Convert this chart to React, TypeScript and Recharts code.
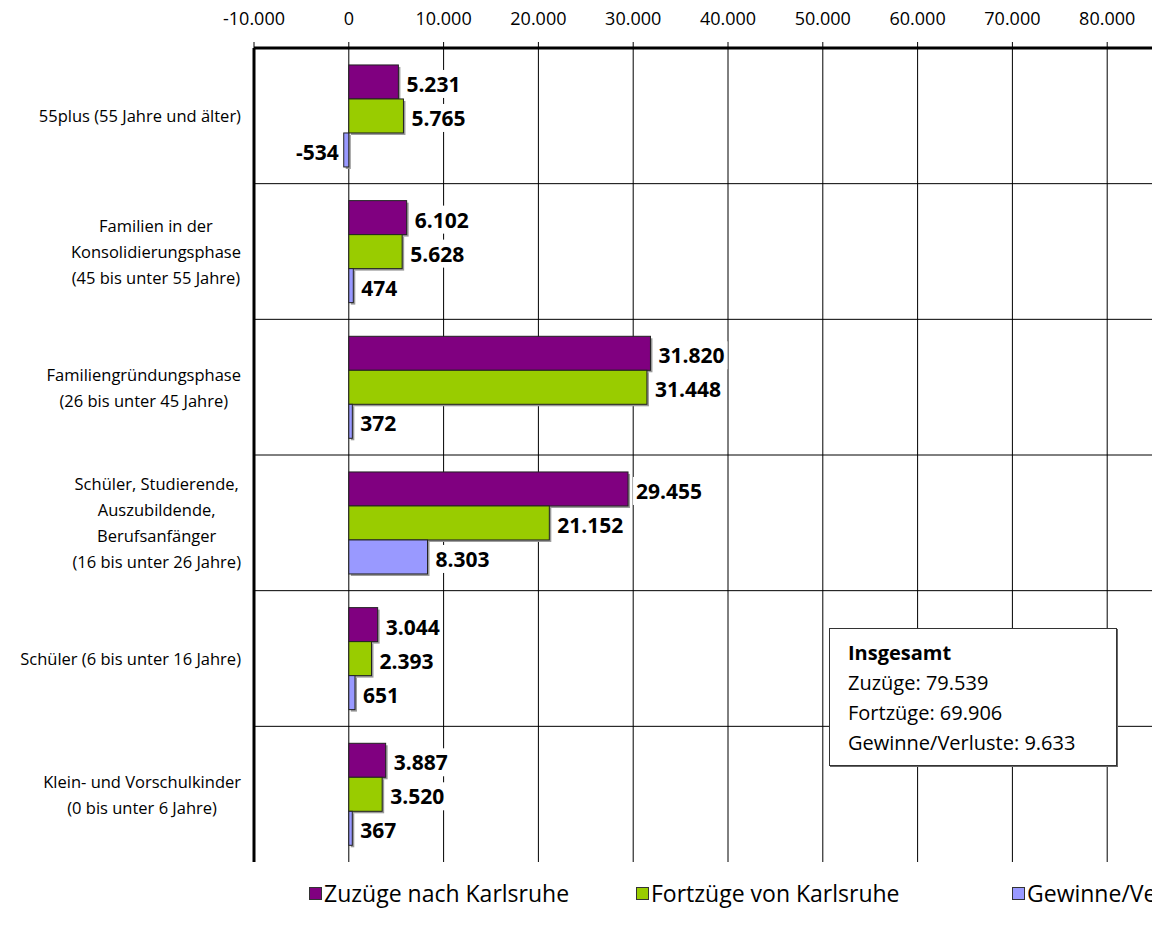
import React from "react";
import { BarChart, Bar, XAxis, YAxis, CartesianGrid, LabelList, Legend } from "recharts";

const categories = [
  "55plus (55 Jahre und älter)",
  "Familien in der\nKonsolidierungsphase\n(45 bis unter 55 Jahre)",
  "Familiengründungsphase\n(26 bis unter 45 Jahre)",
  "Schüler, Studierende,\nAuszubildende,\nBerufsanfänger\n(16 bis unter 26 Jahre)",
  "Schüler (6 bis unter 16 Jahre)",
  "Klein- und Vorschulkinder\n(0 bis unter 6 Jahre)",
];
const zuzuege = [5231, 6102, 31820, 29455, 3044, 3887];
const fortzuege = [5765, 5628, 31448, 21152, 2393, 3520];
const saldo = [-534, 474, 372, 8303, 651, 367];
const xTicks = [-10000, 0, 10000, 20000, 30000, 40000, 50000, 60000, 70000, 80000];

const PURPLE = "#800080";
const GREEN = "#99CC00";
const BLUE = "#9999FF";
const FONT = '"Open Sans", "Noto Sans", sans-serif';

const series = [
  { key: "zu", label: "Zuzüge nach Karlsruhe", color: PURPLE },
  { key: "fort", label: "Fortzüge von Karlsruhe", color: GREEN },
  { key: "saldo", label: "Gewinne/Verluste", color: BLUE },
];

const data = categories.map((name, i) => ({
  name,
  zu: zuzuege[i],
  fort: fortzuege[i],
  saldo: saldo[i],
}));

const sum = (a: number[]) => a.reduce((s, v) => s + v, 0);

function fmt(v: number) {
  const s = Math.abs(v).toString().replace(/\B(?=(\d{3})+(?!\d))/g, ".");
  return v < 0 ? "-" + s : s;
}

let ctx: CanvasRenderingContext2D | null = null;
function textWidth(t: string, font: string) {
  if (!ctx) ctx = document.createElement("canvas").getContext("2d");
  if (!ctx) return t.length * 8;
  ctx.font = font;
  return ctx.measureText(t).width;
}

function CategoryTick(props: any) {
  const { x, y, payload } = props;
  const lines = String(payload.value).split("\n");
  const font = `16.5px ${FONT}`;
  const maxW = Math.max(...lines.map((l) => textWidth(l, font)));
  const cx = x - 13 - maxW / 2;
  const start = y - ((lines.length - 1) * 26) / 2;
  return (
    <g>
      {lines.map((l, i) => (
        <text
          key={i}
          x={cx}
          y={start + i * 26}
          textAnchor="middle"
          dominantBaseline="central"
          fontSize={16.5}
          fontFamily={FONT}
          fill="#000"
        >
          {l}
        </text>
      ))}
    </g>
  );
}

function ShadowBar(props: any) {
  const { x, y, width, height, fill } = props;
  const left = width < 0 ? x + width : x;
  const w = Math.abs(width);
  return (
    <g>
      <rect x={left + 2} y={y + 2} width={w} height={height} fill="#999" />
      <rect x={left} y={y} width={w} height={height} fill={fill} stroke="#222" strokeWidth={1} />
    </g>
  );
}

function ValueLabel(props: any) {
  const { x, y, width, height, value } = props;
  const font = `bold 21px ${FONT}`;
  const txt = fmt(value);
  const w = textWidth(txt, font);
  const end = value >= 0 ? Math.max(x, x + width) : Math.min(x, x + width);
  const cy = y + height / 2 + 2;
  const tx = value >= 0 ? end + 8 : end - 5;
  const rx = value >= 0 ? tx - 3 : tx - w - 3;
  return (
    <g>
      <rect x={rx} y={cy - 14} width={w + 6} height={28} fill="#fff" />
      <text
        x={tx}
        y={cy}
        textAnchor={value >= 0 ? "start" : "end"}
        dominantBaseline="central"
        fontSize={21}
        fontWeight="bold"
        fontFamily={FONT}
        fill="#000"
      >
        {txt}
      </text>
    </g>
  );
}

function LegendContent() {
  const widths = [327, 376, 300];
  return (
    <div style={{ height: 50, paddingTop: 19, paddingLeft: 309, boxSizing: "border-box", display: "flex" }}>
      {series.map((s, i) => (
        <div
          key={s.key}
          style={{ width: widths[i], flexShrink: 0, display: "flex", alignItems: "center", height: 24 }}
        >
          <span
            style={{
              width: 11,
              height: 11,
              background: s.color,
              border: "1px solid #333",
              marginRight: 2,
              display: "inline-block",
              flexShrink: 0,
            }}
          />
          <span style={{ fontSize: 23, fontFamily: FONT, color: "#000", whiteSpace: "nowrap" }}>{s.label}</span>
        </div>
      ))}
    </div>
  );
}

export default function App() {
  return (
    <div
      style={{
        position: "absolute",
        left: 0,
        top: 0,
        width: 1152,
        height: 937,
        overflow: "hidden",
        background: "#fff",
        fontFamily: FONT,
      }}
    >
      <BarChart
        width={1210}
        height={937}
        data={data}
        layout="vertical"
        margin={{ top: 0, right: 8, bottom: 25, left: 0 }}
        barCategoryGap="12.5%"
        barGap={0}
      >
        <CartesianGrid
          stroke="#000"
          strokeWidth={1}
          horizontalCoordinatesGenerator={({ offset }: any) =>
            categories.slice(1).map((_, i) => offset.top + ((i + 1) * offset.height) / categories.length)
          }
        />
        <XAxis
          type="number"
          orientation="top"
          domain={[-10000, 90000]}
          ticks={xTicks}
          tickFormatter={fmt}
          height={48}
          tickSize={6}
          tickMargin={17}
          tick={{ fontSize: 18, fill: "#000", fontFamily: FONT }}
          tickLine={{ stroke: "#000" }}
          axisLine={{ stroke: "#000", strokeWidth: 3 }}
          interval={0}
        />
        <XAxis
          xAxisId="bottom"
          type="number"
          orientation="bottom"
          domain={[-10000, 90000]}
          height={0}
          tick={false}
          tickLine={false}
          axisLine={{ stroke: "#000", strokeWidth: 3 }}
        />
        <YAxis
          type="category"
          dataKey="name"
          width={254}
          tickSize={0}
          tickMargin={0}
          tickLine={false}
          axisLine={{ stroke: "#000", strokeWidth: 3 }}
          tick={<CategoryTick />}
          interval={0}
        />
        <Legend verticalAlign="bottom" wrapperStyle={{ left: 0, width: 1210 }} content={<LegendContent />} />
        {series.map((s) => (
          <Bar
            key={s.key}
            dataKey={s.key}
            name={s.label}
            fill={s.color}
            shape={<ShadowBar />}
            isAnimationActive={false}
          >
            <LabelList dataKey={s.key} content={<ValueLabel />} />
          </Bar>
        ))}
      </BarChart>
      <div
        style={{
          position: "absolute",
          left: 829,
          top: 628,
          width: 288,
          height: 138,
          border: "1px solid #333",
          boxShadow: "1px 1px 0 #666",
          background: "#fff",
          boxSizing: "border-box",
          padding: "9px 0 0 18px",
          fontSize: 20,
          lineHeight: "30px",
          color: "#000",
        }}
      >
        <div style={{ fontWeight: "bold" }}>Insgesamt</div>
        <div>Zuzüge: {fmt(sum(zuzuege))}</div>
        <div>Fortzüge: {fmt(sum(fortzuege))}</div>
        <div>Gewinne/Verluste: {fmt(sum(saldo))}</div>
      </div>
    </div>
  );
}
